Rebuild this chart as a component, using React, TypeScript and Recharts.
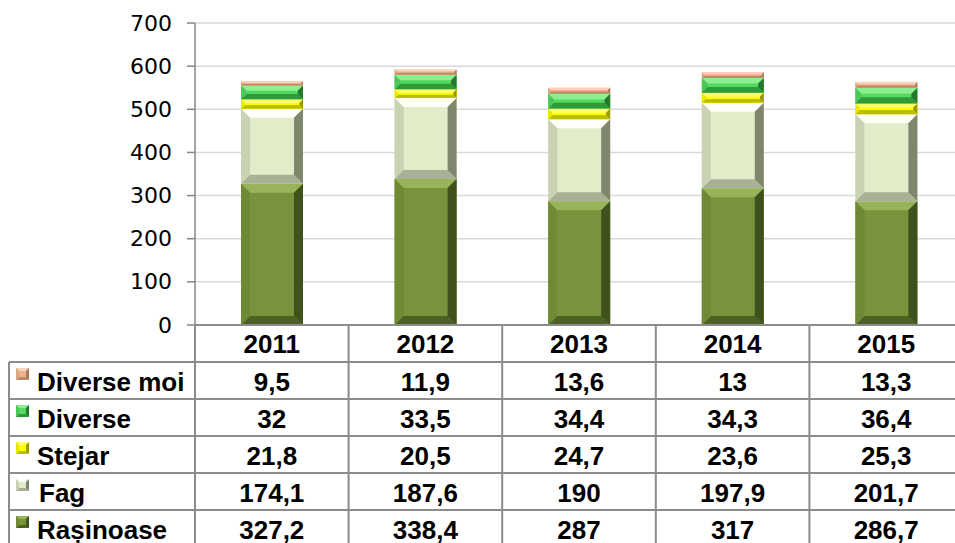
import React from "react";
import { BarChart, Bar, XAxis, YAxis, CartesianGrid, Customized } from "recharts";

const years = ["2011", "2012", "2013", "2014", "2015"];
const rasinoase = [327.2, 338.4, 287, 317, 286.7];
const fag = [174.1, 187.6, 190, 197.9, 201.7];
const stejar = [21.8, 20.5, 24.7, 23.6, 25.3];
const diverse = [32, 33.5, 34.4, 34.3, 36.4];
const diverseMoi = [9.5, 11.9, 13.6, 13, 13.3];
const yTicks = [0, 100, 200, 300, 400, 500, 600, 700];

type Pal = { base: string; top: string; bottom: string; left: string; right: string };

const series: { key: string; name: string; values: number[]; pal: Pal }[] = [
  { key: "rasinoase", name: "Rașinoase", values: rasinoase, pal: { base: "#77933C", top: "#98B458", bottom: "#4C6124", left: "#6E8A34", right: "#3F511C" } },
  { key: "fag", name: "Fag", values: fag, pal: { base: "#E2ECC8", top: "#FFFFFA", bottom: "#A8B095", left: "#C9D2B2", right: "#7E866E" } },
  { key: "stejar", name: "Stejar", values: stejar, pal: { base: "#FFFF00", top: "#FFFF70", bottom: "#BDBD00", left: "#E8E800", right: "#9A9A00" } },
  { key: "diverse", name: "Diverse", values: diverse, pal: { base: "#55D860", top: "#8CF090", bottom: "#2F9A38", left: "#4CC858", right: "#237A2A" } },
  { key: "diverseMoi", name: "Diverse moi", values: diverseMoi, pal: { base: "#EDB38F", top: "#F8D2B8", bottom: "#C08866", left: "#E0A880", right: "#A8785A" } },
];

const data = years.map((y, i) => {
  const row: Record<string, number | string> = { year: y };
  series.forEach((s) => (row[s.key] = s.values[i]));
  return row;
});

const CHART_W = 963;
const CHART_H = 543;
const LEFT = 195;
const TOP = 23;
const AXIS_H = 218;
const ROW_H = 37;
const TABLE_LEFT = 9;
const COL_W = (CHART_W - LEFT) / years.length;
const TABLE_FONT = "Liberation Sans, Arial, sans-serif";
const TABLE_SIZE = 26;
const LINE = "#8C8C8C";

const tableRows = [...series].reverse();
const fmt = (v: number) => String(v).replace(".", ",");

const bevelShape = (pal: Pal, maxB: number) => (props: any) => {
  const { x, y, width, height } = props;
  if (!height || height <= 0) return <g />;
  const b = Math.min(maxB, height / 2.6, width / 4);
  const x2 = x + width;
  const y2 = y + height;
  return (
    <g>
      <rect x={x} y={y} width={width} height={height} fill={pal.base} />
      <polygon points={`${x},${y} ${x2},${y} ${x2 - b},${y + b} ${x + b},${y + b}`} fill={pal.top} />
      <polygon points={`${x},${y2} ${x2},${y2} ${x2 - b},${y2 - b} ${x + b},${y2 - b}`} fill={pal.bottom} />
      <polygon points={`${x},${y} ${x + b},${y + b} ${x + b},${y2 - b} ${x},${y2}`} fill={pal.left} />
      <polygon points={`${x2},${y} ${x2 - b},${y + b} ${x2 - b},${y2 - b} ${x2},${y2}`} fill={pal.right} />
    </g>
  );
};

const YTick = (props: any) => {
  const { x, y, payload } = props;
  return (
    <text x={x} y={y} textAnchor="end" dominantBaseline="central" style={{ fontFamily: '"DejaVu Sans", sans-serif', fontSize: 22 }} fill="#000">
      {payload.value}
    </text>
  );
};

const TableColumn = (props: any) => {
  const { x, y, payload, index } = props;
  const i = index as number;
  const left = x - COL_W / 2;
  return (
    <g>
      <line x1={left} x2={left} y1={y} y2={y + ROW_H * 6} stroke={LINE} strokeWidth={2} />
      <text x={x} y={y + ROW_H / 2} textAnchor="middle" dominantBaseline="central" fontFamily={TABLE_FONT} fontWeight="bold" fontSize={TABLE_SIZE} fill="#000">
        {payload.value}
      </text>
      {tableRows.map((s, r) => (
        <text key={s.key} x={x} y={y + ROW_H * (r + 1) + ROW_H / 2 + 1} textAnchor="middle" dominantBaseline="central" fontFamily={TABLE_FONT} fontWeight="bold" fontSize={TABLE_SIZE} fill="#000">
          {fmt(s.values[i])}
        </text>
      ))}
    </g>
  );
};

const LeftPanel = () => {
  const top = TOP + (CHART_H - TOP - AXIS_H);
  return (
    <g>
      {[1, 2, 3, 4, 5, 6].map((k) => (
        <line key={k} x1={TABLE_LEFT} x2={CHART_W} y1={top + ROW_H * k} y2={top + ROW_H * k} stroke={LINE} strokeWidth={2} />
      ))}
      <line x1={TABLE_LEFT} x2={TABLE_LEFT} y1={top + ROW_H} y2={top + ROW_H * 6} stroke={LINE} strokeWidth={2} />
      {tableRows.map((s, r) => {
        const rowTop = top + ROW_H * (r + 1);
        const shape = bevelShape(s.pal, 3);
        return (
          <g key={s.key}>
            {shape({ x: 16, y: rowTop + 6, width: 13, height: 12 })}
            <text x={s.name === "Fag" ? 39 : 37} y={rowTop + ROW_H / 2 + 1} dominantBaseline="central" fontFamily={TABLE_FONT} fontWeight="bold" fontSize={TABLE_SIZE} fill="#000">
              {s.name}
            </text>
          </g>
        );
      })}
    </g>
  );
};

export default function App() {
  return (
    <div style={{ position: "absolute", left: 0, top: 0, width: 955, height: 543, overflow: "hidden", background: "#fff" }}>
      <BarChart width={CHART_W} height={CHART_H} data={data} margin={{ top: TOP, right: 0, bottom: 0, left: 0 }} barSize={62}>
        <CartesianGrid vertical={false} stroke="#D9D9D9" strokeWidth={1.5} />
        <YAxis
          width={LEFT}
          domain={[0, 700]}
          ticks={yTicks}
          interval={0}
          axisLine={{ stroke: "#868686", strokeWidth: 1.5 }}
          tickLine={{ stroke: "#868686", strokeWidth: 1.5 }}
          tickSize={8}
          tickMargin={15}
          tick={<YTick />}
        />
        <XAxis
          dataKey="year"
          height={AXIS_H}
          interval={0}
          axisLine={{ stroke: LINE, strokeWidth: 2 }}
          tickLine={false}
          tickSize={0}
          tickMargin={0}
          tick={<TableColumn />}
        />
        {series.map((s) => (
          <Bar key={s.key} dataKey={s.key} name={s.name} stackId="a" isAnimationActive={false} shape={bevelShape(s.pal, 9)} />
        ))}
        <Customized component={LeftPanel} />
      </BarChart>
    </div>
  );
}
